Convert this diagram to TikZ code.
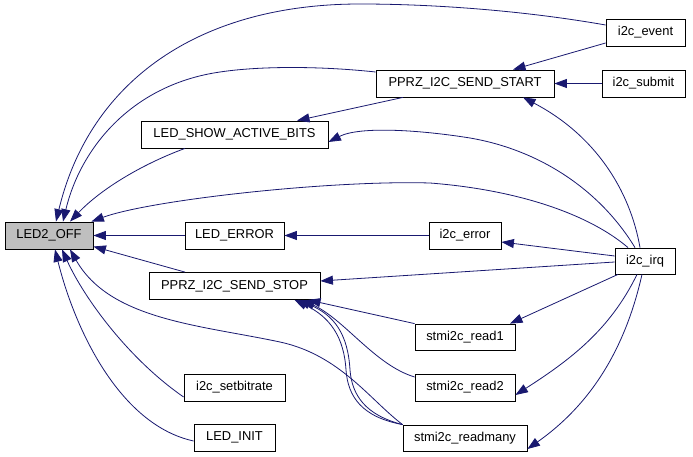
\documentclass[tikz,border=0pt]{standalone}
\usepackage{fontspec}
\setmainfont{Liberation Sans}
\usetikzlibrary{arrows.meta}
\definecolor{edgeblue}{HTML}{191970}
\definecolor{focusgray}{HTML}{BFBFBF}
\tikzset{
  fn/.style={draw=black, line width=0.8pt, fill=white, inner sep=0pt,
    minimum height=27pt, font=\fontsize{12.9}{14}\selectfont},
  call/.style={draw=edgeblue, line width=0.8pt,
    -{Triangle[length=12.5pt,width=9pt]}, fill=none},
}
\begin{document}
\begin{tikzpicture}[x=1pt,y=-1pt]
\useasboundingbox (0,0) rectangle (693,457);
\fill[white] (0,0) rectangle (693,457);

% nodes
\node[fn, fill=focusgray, minimum width=88pt] (led2) at (49,235.5) {LED2\_OFF};
\node[fn, minimum width=187pt] (show) at (234.5,134.5) {LED\_SHOW\_ACTIVE\_BITS};
\node[fn, minimum width=178pt] (start) at (465,83.5) {PPRZ\_I2C\_SEND\_START};
\node[fn, minimum width=79pt] (event) at (645.5,32.5) {i2c\_event};
\node[fn, minimum width=83pt] (submit) at (643.5,83.5) {i2c\_submit};
\node[fn, minimum width=99pt] (lederr) at (234.5,235.5) {LED\_ERROR};
\node[fn, minimum width=72pt] (i2cerr) at (465,235.5) {i2c\_error};
\node[fn, minimum width=60pt, minimum height=26pt] (irq) at (645,261) {i2c\_irq};
\node[fn, minimum width=171pt] (stop) at (234.5,286) {PPRZ\_I2C\_SEND\_STOP};
\node[fn, minimum width=100pt, minimum height=26pt] (read1) at (465,337) {stmi2c\_read1};
\node[fn, minimum width=100pt] (read2) at (465,387.5) {stmi2c\_read2};
\node[fn, minimum width=124pt, minimum height=26pt] (readmany) at (465,438) {stmi2c\_readmany};
\node[fn, minimum width=101pt] (setbit) at (234.5,387.5) {i2c\_setbitrate};
\node[fn, minimum width=81pt] (ledinit) at (234.5,437.5) {LED\_INIT};

% edges
\draw[call] ([yshift=7.5]event.west) .. controls (520,10) and (430,4) .. (360,4)
  .. controls (200,4) and (90,80) .. ([xshift=7]led2.north);
\draw[call] ([yshift=-10.5]event.west) -- ([xshift=48]start.north);
\draw[call] ([yshift=11.5]start.west) .. controls (320,66) and (260,66) .. (220,72)
  .. controls (130,85) and (80,150) .. ([xshift=14]led2.north);
\draw[call] ([xshift=-62]start.south) -- ([xshift=62.5]show.north);
\draw[call] (submit.west) -- (start.east);
\draw[call] ([xshift=-5]irq.north) .. controls (630,190) and (595,135) .. ([xshift=58]start.south);
\draw[call] ([xshift=-10]irq.north) .. controls (600,190) and (540,150) .. (470,138)
  .. controls (420,130) and (360,126) .. ([yshift=-7.5]show.east);
\draw[call] ([xshift=-49.5]show.south) .. controls (140,165) and (100,190) .. ([xshift=21]led2.north);
\draw[call] ([xshift=-17]irq.north) .. controls (590,215) and (520,190) .. (430,183)
  .. controls (330,180) and (150,200) .. ([xshift=-2]led2.north east);
\draw[call] (lederr.west) -- (led2.east);
\draw[call] (i2cerr.west) -- (lederr.east);
\draw[call] ([yshift=5]irq.west) -- ([yshift=-6.5]i2cerr.east);
\draw[call] ([yshift=-1]irq.west) -- ([yshift=5]stop.east);
\draw[call] ([xshift=-49.5]stop.north) -- ([yshift=-11]led2.east);
\draw[call] ([xshift=-27]irq.south) -- ([xshift=45]read1.north);
\draw[call] ([xshift=-8]irq.south) .. controls (610,330) and (570,360) .. ([yshift=-7.5]read2.east);
\draw[call] ([xshift=-3]irq.south) .. controls (625,350) and (590,405) .. ([yshift=-11]readmany.east);
\draw[call] (read1.north west) -- ([xshift=73.5]stop.south);
\draw[call] ([yshift=10.5]read2.west) .. controls (375,365) and (345,320) .. ([xshift=68]stop.south);
\draw[call] (readmany.north west) .. controls (365,415) and (352,395) .. (350,370)
  .. controls (348,335) and (335,315) .. ([xshift=63]stop.south);
\draw[call] (readmany.north west) .. controls (362,417) and (348,397) .. (346,370)
  .. controls (344,337) and (330,317) .. ([xshift=60]stop.south);
\draw[call] (readmany.north west) .. controls (370,400) and (340,355) .. (280,342)
  .. controls (200,325) and (110,320) .. ([xshift=21]led2.south);
\draw[call] ([yshift=-9.5]setbit.west) .. controls (130,360) and (85,300) .. ([xshift=13]led2.south);
\draw[call] ([yshift=-3.5]ledinit.west) .. controls (120,425) and (75,330) .. ([xshift=6]led2.south);
\end{tikzpicture}
\end{document}
